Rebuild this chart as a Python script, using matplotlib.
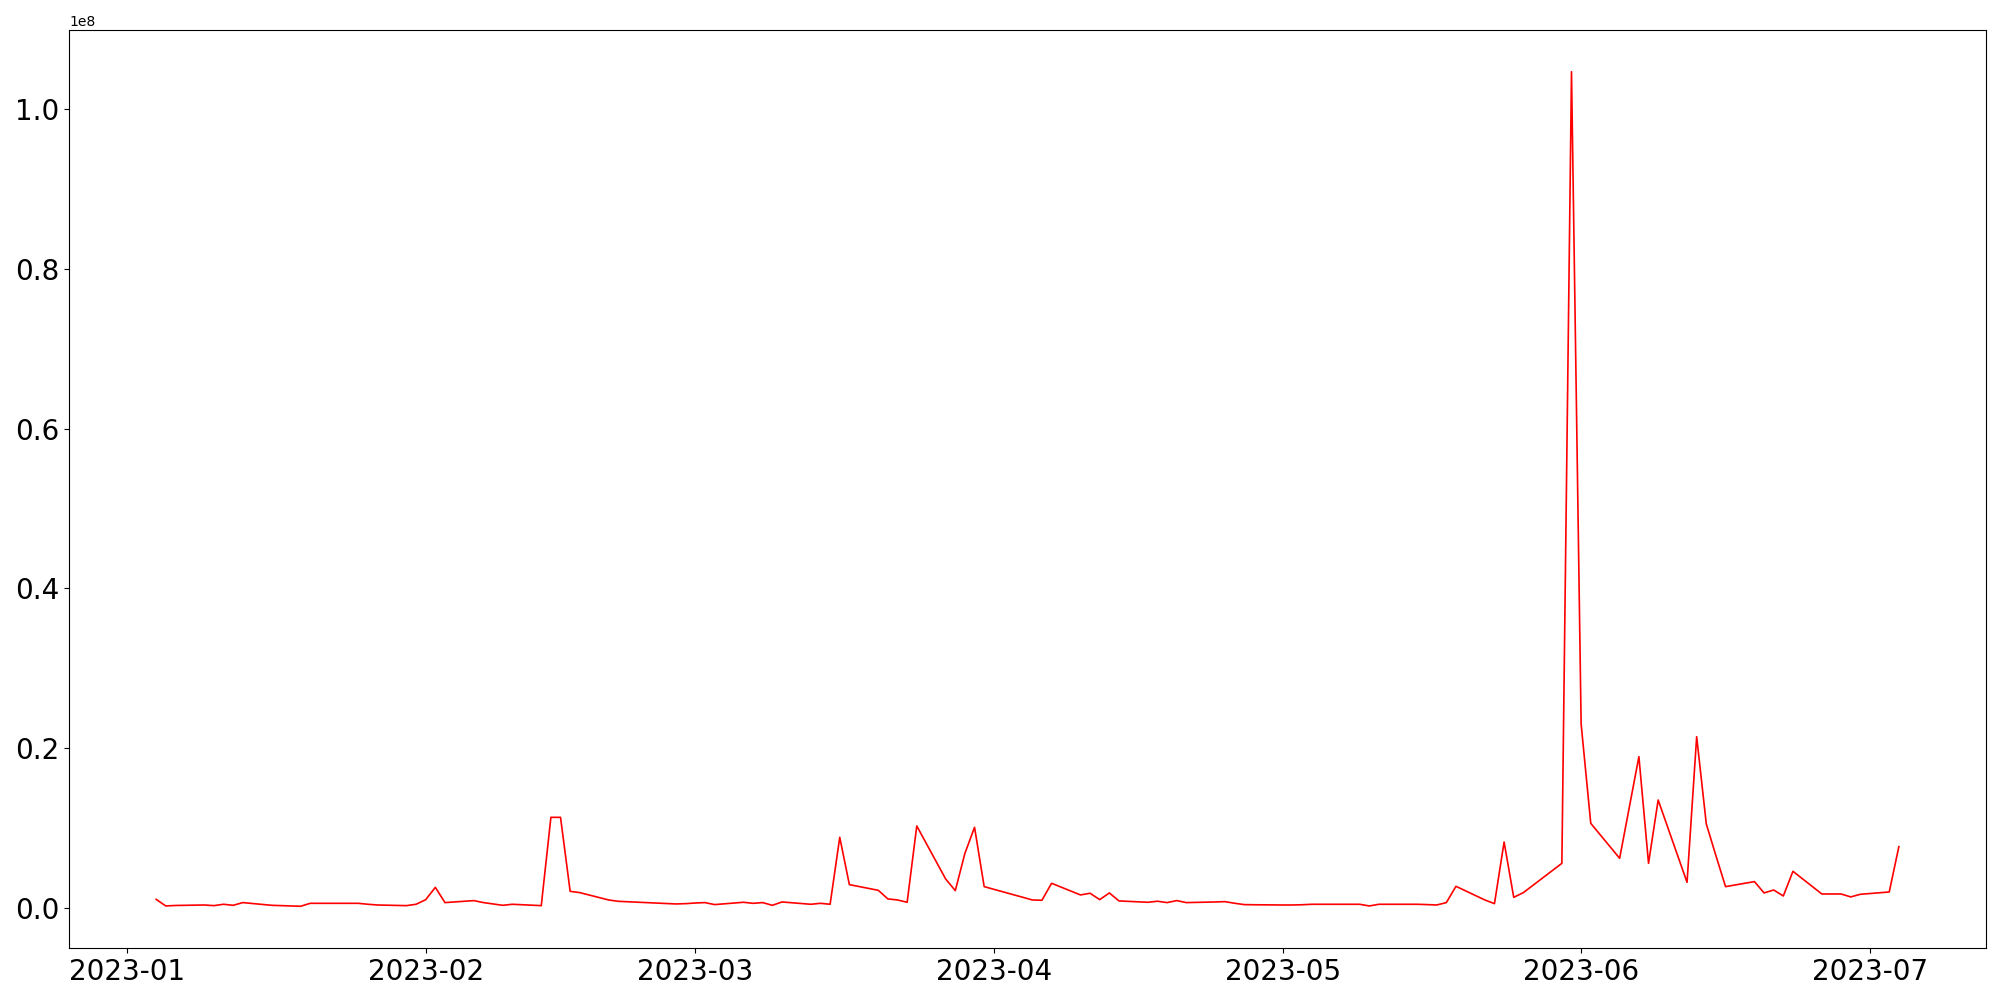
import numpy as np
import pandas as pd
import matplotlib
matplotlib.use("Agg")
import matplotlib.pyplot as plt
import matplotlib.dates as mdates

# dates and volumes (in millions)
dates = [
    "2023-01-04", "2023-01-05", "2023-01-06", "2023-01-09", "2023-01-10",
    "2023-01-11", "2023-01-12", "2023-01-13", "2023-01-16", "2023-01-17",
    "2023-01-18", "2023-01-19", "2023-01-20", "2023-01-23", "2023-01-24",
    "2023-01-25", "2023-01-26", "2023-01-27", "2023-01-30", "2023-01-31",
    "2023-02-01", "2023-02-02", "2023-02-03", "2023-02-06", "2023-02-07",
    "2023-02-08", "2023-02-09", "2023-02-10", "2023-02-13", "2023-02-14",
    "2023-02-15", "2023-02-16", "2023-02-17", "2023-02-20", "2023-02-21",
    "2023-02-27", "2023-02-28", "2023-03-01", "2023-03-02", "2023-03-03",
    "2023-03-06", "2023-03-07", "2023-03-08", "2023-03-09", "2023-03-10",
    "2023-03-13", "2023-03-14", "2023-03-15", "2023-03-16", "2023-03-17",
    "2023-03-20", "2023-03-21", "2023-03-22", "2023-03-23", "2023-03-24",
    "2023-03-27", "2023-03-28", "2023-03-29", "2023-03-30", "2023-03-31",
    "2023-04-03", "2023-04-04", "2023-04-05", "2023-04-06", "2023-04-07",
    "2023-04-10", "2023-04-11", "2023-04-12", "2023-04-13", "2023-04-14",
    "2023-04-17", "2023-04-18", "2023-04-19", "2023-04-20", "2023-04-21",
    "2023-04-24", "2023-04-25", "2023-04-26", "2023-04-27", "2023-04-28",
    "2023-05-01", "2023-05-02", "2023-05-03", "2023-05-04", "2023-05-05",
    "2023-05-08", "2023-05-09", "2023-05-10", "2023-05-11", "2023-05-12",
    "2023-05-15", "2023-05-16", "2023-05-17", "2023-05-18", "2023-05-19",
    "2023-05-22", "2023-05-23", "2023-05-24", "2023-05-25", "2023-05-26",
    "2023-05-30", "2023-05-31", "2023-06-01", "2023-06-02", "2023-06-05",
    "2023-06-07", "2023-06-08", "2023-06-09", "2023-06-12", "2023-06-13",
    "2023-06-14", "2023-06-15", "2023-06-16", "2023-06-19", "2023-06-20",
    "2023-06-21", "2023-06-22", "2023-06-23", "2023-06-26", "2023-06-27",
    "2023-06-28", "2023-06-29", "2023-06-30", "2023-07-03", "2023-07-04",
]

volume_m = [
    1.04, 0.21, 0.27, 0.33, 0.25,
    0.42, 0.29, 0.63, 0.29, 0.25,
    0.21, 0.17, 0.54, 0.54, 0.54,
    0.54, 0.42, 0.33, 0.25, 0.42,
    1.00, 2.54, 0.63, 0.88, 0.63,
    0.46, 0.29, 0.42, 0.25, 11.31,
    11.31, 2.04, 1.88, 0.96, 0.79,
    0.46, 0.50, 0.58, 0.63, 0.38,
    0.67, 0.54, 0.63, 0.29, 0.71,
    0.42, 0.54, 0.42, 8.81, 2.88,
    2.17, 1.09, 0.96, 0.67, 10.23,
    3.59, 2.13, 6.80, 10.06, 2.63,
    1.63, 1.30, 0.96, 0.92, 3.05,
    1.59, 1.80, 1.00, 1.84, 0.84,
    0.67, 0.80, 0.63, 0.88, 0.63,
    0.71, 0.75, 0.55, 0.38, 0.36,
    0.33, 0.33, 0.36, 0.42, 0.42,
    0.42, 0.42, 0.21, 0.42, 0.42,
    0.42, 0.38, 0.33, 0.63, 2.67,
    0.96, 0.50, 8.22, 1.29, 1.88,
    5.55, 104.7, 23.0, 10.56, 6.18,
    18.91, 5.55, 13.48, 3.17, 21.41,
    10.48, 6.51, 2.63, 3.26, 1.84,
    2.21, 1.46, 4.55, 1.71, 1.71,
    1.71, 1.34, 1.67, 1.96, 7.64,
]

x = pd.to_datetime(dates)
y = np.array(volume_m) * 1e6

fig, ax = plt.subplots(figsize=(20, 10), dpi=100)
ax.plot(x, y, color="red", linewidth=1.2)

ax.xaxis.set_major_locator(mdates.MonthLocator())
ax.xaxis.set_major_formatter(mdates.DateFormatter("%Y-%m"))
ax.tick_params(labelsize=20)

fig.subplots_adjust(left=0.0345, right=0.993, bottom=0.052, top=0.97)
fig.savefig("out.png")
